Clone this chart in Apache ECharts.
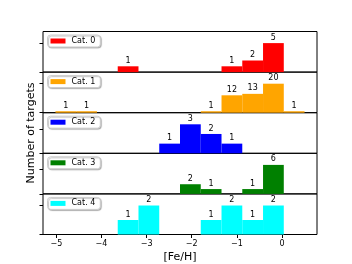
<!DOCTYPE html>
<html><head><meta charset="utf-8">
<script src="https://cdn.jsdelivr.net/npm/echarts@6/dist/echarts.min.js"></script>
<style>html,body{margin:0;padding:0;background:#fff}#c{width:352px;height:264px}</style>
</head><body><div id="c"></div>
<script>
const binEdges = [-5.02,-4.56,-4.10,-3.64,-3.18,-2.72,-2.26,-1.80,-1.34,-0.88,-0.42,0.04,0.50];
const categories = ['Cat. 0','Cat. 1','Cat. 2','Cat. 3','Cat. 4'];
const cat0 = [0,0,0,1,0,0,0,0,1,2,5,0];
const cat1 = [1,1,0,0,0,0,0,1,12,13,20,1];
const cat2 = [0,0,0,0,0,1,3,2,1,0,0,0];
const cat3 = [0,0,0,0,0,0,2,1,0,1,6,0];
const cat4 = [0,0,0,1,2,0,0,1,2,1,2,0];
const xTicks = [-5,-4,-3,-2,-1,0];
const yTickPerPanel = [5,20,2.5,5,2];
const colors = ['#ff0000','#ffa500','#0000ff','#008000','#00ffff'];
const counts = [cat0,cat1,cat2,cat3,cat4];

const font = 'DejaVu Sans';
const L=43, W=274, T0=31.5, H=40.6;
const grids=[], xAxes=[], yAxes=[], series=[], legends=[];
counts.forEach((arr,i)=>{
  const top = T0+H*i;
  grids.push({left:L, width:W, top:top, height:H, show:true, borderColor:'#000', borderWidth:1, backgroundColor:'transparent'});
  const bottom = i===4;
  xAxes.push({type:'value', gridIndex:i, min:-5.296, max:0.776, show:bottom, position:'bottom',
    axisLine:{show:false, onZero:false}, splitLine:{show:false},
    axisTick:{show:true, customValues:xTicks, length:3.5, lineStyle:{color:'#000'}},
    axisLabel:{show:true, customValues:xTicks, fontFamily:font, fontSize:8, color:'#000', margin:5,
      formatter:v=>String(v).replace('-','\u2212')},
    name: bottom?'[Fe/H]':'', nameLocation:'middle', nameGap:17,
    nameTextStyle:{fontFamily:font, fontSize:11, color:'#000'}});
  const mx = Math.max(...arr);
  yAxes.push({type:'value', gridIndex:i, min:0, max:mx*1.4, position:'left',
    axisLine:{show:false, onZero:false}, splitLine:{show:false}, axisLabel:{show:false},
    axisTick:{show:true, customValues:[0, yTickPerPanel[i]], length:3.5, lineStyle:{color:'#000'}}});
  const data = [];
  arr.forEach((c,k)=>{ if(c>0) data.push([binEdges[k], binEdges[k+1], c]); });
  const col = colors[i];
  series.push({type:'custom', name:categories[i], xAxisIndex:i, yAxisIndex:i,
    itemStyle:{color:col},
    data:data,
    renderItem:(params, api)=>{
      const x0=api.value(0), x1=api.value(1), c=api.value(2);
      const p0=api.coord([x0,0]), p1=api.coord([x1,c]);
      return {type:'group', children:[
        {type:'rect', shape:{x:p0[0], y:p1[1], width:p1[0]-p0[0], height:p0[1]-p1[1]}, style:{fill:col}},
        {type:'text', style:{text:String(c), x:(p0[0]+p1[0])/2, y:p1[1]-1.5, align:'center', verticalAlign:'bottom',
          fontFamily:font, fontSize:8, fill:'#000'}}
      ]};
    }});
  legends.push({data:[categories[i]], left:47.5, top:top+3.5, orient:'vertical',
    icon:'rect', itemWidth:15, itemHeight:5, itemGap:0,
    padding:[2,5,2,3], borderColor:'#cccccc', borderWidth:1, borderRadius:3,
    backgroundColor:'#fff', shadowColor:'rgba(0,0,0,0.25)', shadowOffsetX:1, shadowOffsetY:1, shadowBlur:1,
    textStyle:{fontFamily:font, fontSize:8, color:'#000', padding:[0,0,0,1]}, selectedMode:false});
});

const chart = echarts.init(document.getElementById('c'), null, {renderer:'canvas'});
chart.setOption({
  animation:false,
  grid:grids, xAxis:xAxes, yAxis:yAxes, series:series, legend:legends,
  graphic:[{type:'text', x:31, y:133, rotation:Math.PI/2,
    style:{text:'Number of targets', align:'center', verticalAlign:'middle', fontFamily:font, fontSize:11, fill:'#000'}}]
});
</script></body></html>
